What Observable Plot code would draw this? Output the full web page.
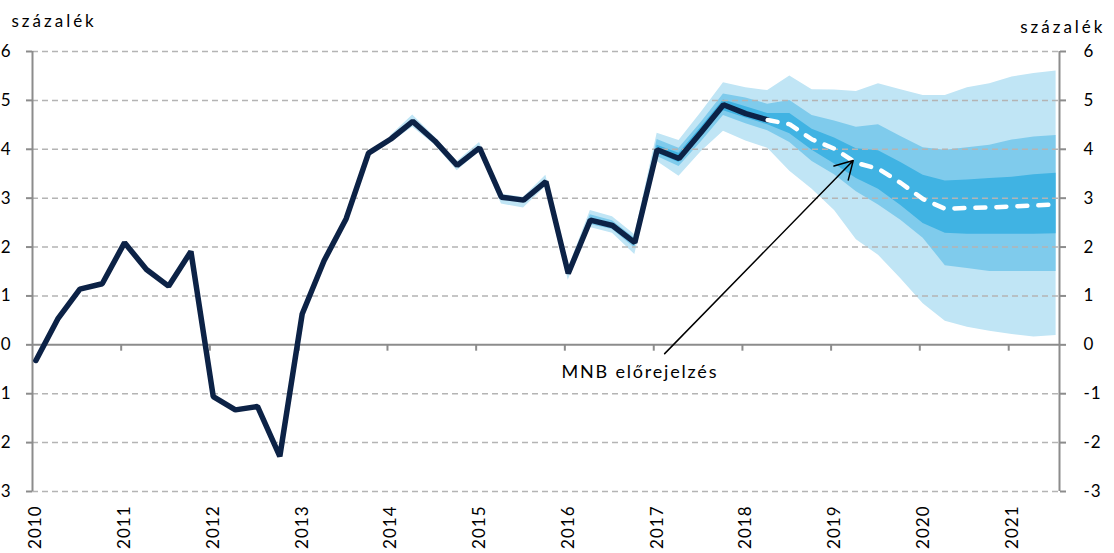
<!DOCTYPE html>
<html><head><meta charset="utf-8">
<script src="https://cdn.jsdelivr.net/npm/d3@7"></script>
<script src="https://cdn.jsdelivr.net/npm/@observablehq/plot@0.6"></script>
<style>
html,body{margin:0;padding:0;background:#fff;}
#chart{width:1114px;height:553px;overflow:hidden;}
</style></head><body><div id="chart"></div>
<script>
// ---- data ----
const startYear = 2010; // first quarter = 2010 Q1
const history = [-0.32, 0.53, 1.14, 1.25, 2.09, 1.54, 1.20, 1.91, -1.06, -1.33, -1.26, -2.28,
  0.63, 1.72, 2.58, 3.92, 4.21, 4.57, 4.17, 3.67, 4.03, 3.02, 2.96, 3.34,
  1.46, 2.55, 2.44, 2.09, 3.99, 3.81, 4.35, 4.91, 4.73, 4.60];
const forecastStart = 33; // 2018 Q2
const forecast = [4.60, 4.51, 4.20, 4.01, 3.72, 3.60, 3.31, 2.98, 2.78, 2.80, 2.81, 2.83, 2.85, 2.87];
const bandStart = 16; // 2014 Q1
const lightLow  = [4.14, 4.45, 4.09, 3.56, 3.95, 2.88, 2.80, 3.24, 1.32, 2.40, 2.28, 1.85, 3.75, 3.45, 3.95, 4.37, 4.17, 4.02, 3.55, 3.18, 2.75, 2.15, 1.83, 1.35, 0.84, 0.48, 0.36, 0.28, 0.21, 0.16, 0.19];
const lightHigh = [4.28, 4.70, 4.25, 3.75, 4.14, 3.08, 3.02, 3.47, 1.56, 2.75, 2.62, 2.25, 4.33, 4.18, 4.75, 5.36, 5.26, 5.20, 5.50, 5.22, 5.21, 5.18, 5.34, 5.22, 5.10, 5.10, 5.26, 5.34, 5.48, 5.55, 5.60];
const medLow    = [4.18, 4.54, 4.14, 3.64, 4.00, 2.99, 2.93, 3.31, 1.43, 2.46, 2.36, 1.98, 3.85, 3.65, 4.15, 4.69, 4.52, 4.38, 4.14, 3.75, 3.48, 3.13, 2.86, 2.55, 2.18, 1.62, 1.56, 1.50, 1.50, 1.50, 1.50];
const medHigh   = [4.24, 4.60, 4.20, 3.70, 4.06, 3.05, 2.99, 3.37, 1.49, 2.66, 2.54, 2.18, 4.20, 4.02, 4.55, 5.13, 5.05, 4.92, 5.00, 4.69, 4.58, 4.45, 4.50, 4.26, 4.03, 3.98, 4.03, 4.08, 4.19, 4.25, 4.28];
const darkLow   = [4.19, 4.55, 4.15, 3.65, 4.01, 3.00, 2.94, 3.32, 1.44, 2.53, 2.42, 2.07, 3.92, 3.73, 4.27, 4.79, 4.64, 4.50, 4.32, 3.98, 3.70, 3.40, 3.18, 2.85, 2.48, 2.28, 2.26, 2.26, 2.26, 2.26, 2.27];
const darkHigh  = [4.23, 4.59, 4.19, 3.69, 4.05, 3.04, 2.98, 3.36, 1.48, 2.57, 2.46, 2.11, 4.08, 3.92, 4.45, 5.01, 4.87, 4.73, 4.73, 4.41, 4.23, 4.01, 3.97, 3.73, 3.47, 3.35, 3.37, 3.40, 3.43, 3.48, 3.51];
const yTicks = [-3, -2, -1, 0, 1, 2, 3, 4, 5, 6];
const years = [2010, 2011, 2012, 2013, 2014, 2015, 2016, 2017, 2018, 2019, 2020, 2021];
const unitLabel = "százalék";
const annotationLabel = "MNB előrejelzés";
const annotationArrow = [{x1: "2017-02-15", y1: -0.18, x2: "2019-04-02", y2: 3.77}];
const annotationText = [{x: "2016-11-05", y: -0.57, label: annotationLabel}];

// ---- helpers ----
const qDate = i => new Date(Date.UTC(startYear + Math.floor(i / 4), (i % 4) * 3, 15));
const hist = history.map((v, i) => ({date: qDate(i), v}));
const fc = forecast.map((v, k) => ({date: qDate(forecastStart + k), v}));
const bands = lightLow.map((_, k) => ({
  date: qDate(bandStart + k),
  lightLow: lightLow[k], lightHigh: lightHigh[k],
  medLow: medLow[k], medHigh: medHigh[k],
  darkLow: darkLow[k], darkHigh: darkHigh[k]
}));
const xStart = new Date(Date.UTC(2010, 0, 1));
const xEnd = new Date(Date.UTC(2021, 6, 29));
const axisGray = "#8c8c8c";

const chart = Plot.plot({
  width: 1114, height: 553,
  marginLeft: 32, marginRight: 55, marginTop: 51, marginBottom: 62,
  x: {type: "utc", domain: [xStart, xEnd], axis: null},
  y: {domain: [-3, 6], axis: null},
  style: {fontFamily: "Lato, sans-serif", fontSize: "17px", color: "#000", background: "#fff", letterSpacing: "1px"},
  marks: [
    Plot.areaY(bands, {x: "date", y1: "lightLow", y2: "lightHigh", fill: "#c0e5f5"}),
    Plot.areaY(bands, {x: "date", y1: "medLow", y2: "medHigh", fill: "#7fcbec"}),
    Plot.areaY(bands, {x: "date", y1: "darkLow", y2: "darkHigh", fill: "#40b3e3"}),
    Plot.ruleY(yTicks.filter(d => d !== 0), {stroke: "#b4b4b4", strokeWidth: 1.5, strokeDasharray: "6,4"}),
    Plot.ruleY([0], {stroke: axisGray, strokeWidth: 2}),
    Plot.ruleX([xStart, xEnd], {y1: -3, y2: 6, stroke: axisGray, strokeWidth: 2}),
    Plot.ruleX(years.slice(1), {x: d => new Date(Date.UTC(d, 0, 1)), y1: 0, y2: -0.13, stroke: axisGray, strokeWidth: 2}),
    Plot.axisY({anchor: "left", ticks: yTicks, tickSize: 6, tickPadding: 15, tickFormat: d => String(d), stroke: axisGray, strokeWidth: 2, fill: "#000"}),
    Plot.axisY({anchor: "right", ticks: yTicks, tickSize: 6, tickPadding: 18, tickFormat: d => String(d), stroke: axisGray, strokeWidth: 2, fill: "#000"}),
    Plot.line(hist, {x: "date", y: "v", stroke: "#0c2246", strokeWidth: 5.5, strokeLinejoin: "miter", strokeLinecap: "round"}),
    Plot.line(fc, {x: "date", y: "v", stroke: "#ffffff", strokeWidth: 4.5, strokeDasharray: "10,11", strokeLinecap: "round"}),
    Plot.arrow(annotationArrow, {x1: d => new Date(d.x1), y1: "y1", x2: d => new Date(d.x2), y2: "y2", stroke: "#000", strokeWidth: 1.5, headLength: 20, headAngle: 60, insetStart: 0, insetEnd: 0}),
    Plot.text(annotationText, {x: d => new Date(d.x), y: "y", text: "label", fontSize: 18, textAnchor: "middle", lineAnchor: "middle", fill: "#000"}),
    Plot.text(years, {x: d => new Date(Date.UTC(d, 0, 15)), y: () => -3, text: d => String(d), rotate: -90, textAnchor: "end", lineAnchor: "middle", dy: 14, fill: "#000"}),
    Plot.text([unitLabel], {frameAnchor: "top-left", textAnchor: "start", lineAnchor: "bottom", dx: -21, dy: -25, fontSize: 17, fill: "#000"}),
    Plot.text([unitLabel], {frameAnchor: "top-right", textAnchor: "end", lineAnchor: "bottom", dx: 46, dy: -19, fontSize: 17, fill: "#000"})
  ]
});
document.getElementById("chart").appendChild(chart);
d3.select(chart).selectAll("text").filter(function() { return this.textContent === unitLabel; }).style("letter-spacing", "3px");
d3.select(chart).selectAll("text").filter(function() { return this.textContent === annotationLabel; }).style("letter-spacing", "1.8px");
</script></body></html>
